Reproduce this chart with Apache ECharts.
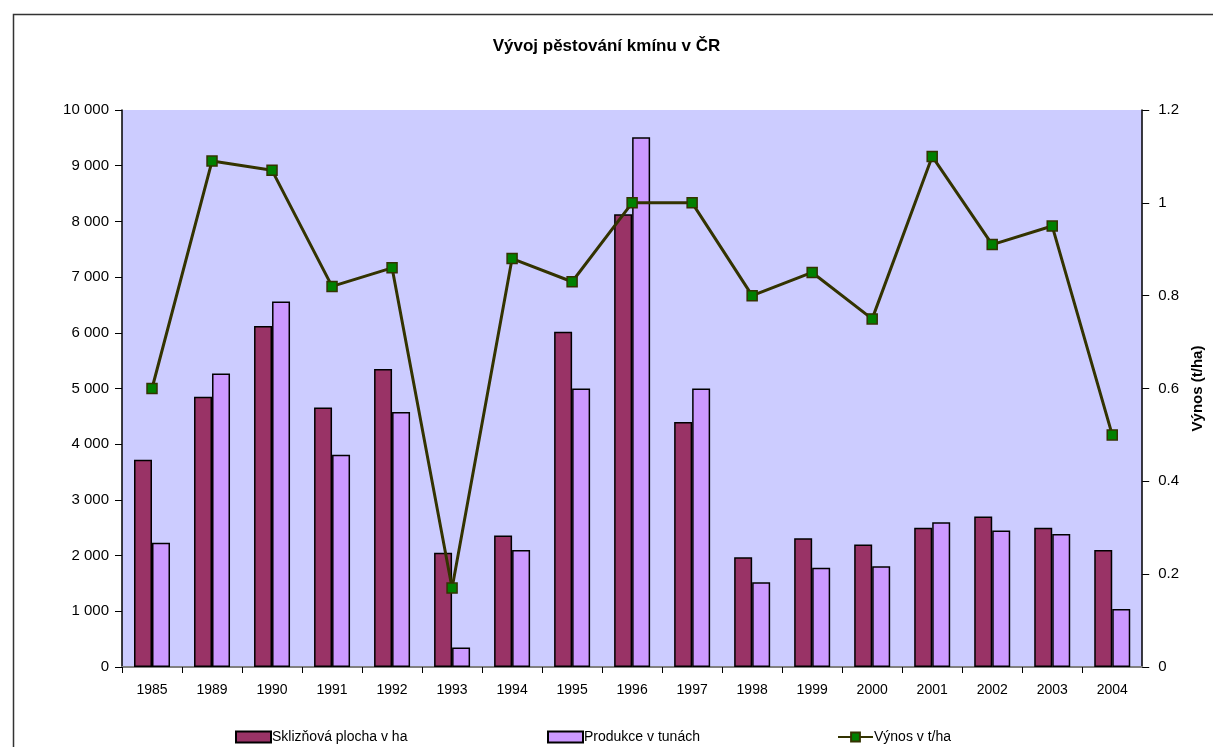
<!DOCTYPE html>
<html>
<head>
<meta charset="utf-8">
<script src="https://cdn.jsdelivr.net/npm/echarts@6/dist/echarts.min.js"></script>
<style>
  html, body { margin: 0; padding: 0; background: #fff; }
  #chart { width: 1213px; height: 747px; }
</style>
</head>
<body>
<div id="chart"></div>
<script>
// roky
var years = ["1985", "1989", "1990", "1991", "1992", "1993", "1994", "1995", "1996",
             "1997", "1998", "1999", "2000", "2001", "2002", "2003", "2004"];
// sklizňová plocha v ha
var plocha = [3720, 4850, 6120, 4660, 5350, 2050, 2360, 6020, 8130,
              4400, 1970, 2310, 2200, 2500, 2700, 2500, 2100];
// produkce v tunách
var produkce = [2230, 5270, 6560, 3810, 4580, 350, 2100, 5000, 9510,
                5000, 1520, 1780, 1810, 2600, 2450, 2390, 1040];
// výnos t/ha
var vynos = [0.6, 1.09, 1.07, 0.82, 0.86, 0.17, 0.88, 0.83, 1.0,
             1.0, 0.8, 0.85, 0.75, 1.1, 0.91, 0.95, 0.5];

var myChart = echarts.init(document.getElementById("chart"));
var font = "Liberation Sans, Arial, sans-serif";

function fmtThousands(v) {
    return String(v).replace(/\B(?=(\d{3})+(?!\d))/g, " ");
}

var option = {
    animation: false,
    backgroundColor: "#fff",
    textStyle: { fontFamily: font },
    title: {
        text: "Vývoj pěstování kmínu v ČR",
        left: "center",
        top: 33,
        textStyle: { fontFamily: font, fontSize: 17, fontWeight: "bold", color: "#000" }
    },
    graphic: [{
        type: "rect",
        left: 11, top: 12,
        shape: { width: 1240, height: 780 },
        style: { fill: "none", stroke: "#333", lineWidth: 1.5 },
        z: -1
    }],
    grid: {
        left: 122, right: 70, top: 110, bottom: 80,
        show: true,
        backgroundColor: "#ccccff",
        borderWidth: 0
    },
    legend: [
        { data: [{ name: "Sklizňová plocha v ha", icon: "rect" }], left: 230, top: 725 },
        { data: [{ name: "Produkce v tunách", icon: "rect" }], left: 542, top: 725 },
        { data: ["Výnos v t/ha"], left: 832, top: 725 }
    ].map(function (l) {
        l.itemWidth = 35;
        l.itemHeight = 11;
        l.itemGap = 0;
        l.textStyle = { fontFamily: font, fontSize: 14, color: "#000", padding: [0, 0, 0, -4] };
        return l;
    }),
    xAxis: {
        type: "category",
        data: years,
        axisLine: { lineStyle: { color: "#808080", width: 2 } },
        axisTick: { show: true, inside: false, length: 6, alignWithLabel: false, lineStyle: { color: "#000" } },
        axisLabel: { color: "#000", fontSize: 14, fontFamily: font, margin: 16 }
    },
    yAxis: [{
        type: "value",
        min: 0, max: 10000, interval: 1000,
        axisLine: { show: true, lineStyle: { color: "#000", width: 1.5 } },
        axisTick: { show: true, length: 7, lineStyle: { color: "#000" } },
        splitLine: { show: false },
        axisLabel: { color: "#000", fontSize: 15, fontFamily: font, margin: 13, formatter: fmtThousands }
    }, {
        type: "value",
        min: 0, max: 1.2, interval: 0.2,
        position: "right",
        name: "Výnos (t/ha)",
        nameLocation: "middle",
        nameRotate: 90,
        nameGap: 44,
        nameTextStyle: { color: "#000", fontSize: 15, fontWeight: "bold", fontFamily: font },
        axisLine: { show: true, lineStyle: { color: "#000", width: 1.5 } },
        axisTick: { show: true, length: 7, lineStyle: { color: "#000" } },
        splitLine: { show: false },
        axisLabel: {
            color: "#000", fontSize: 15, fontFamily: font, margin: 16,
            formatter: function (v) { return String(Math.round(v * 10) / 10); }
        }
    }],
    series: [{
        name: "Sklizňová plocha v ha",
        type: "bar",
        data: plocha,
        barWidth: 18,
        barGap: "0%",
        itemStyle: { color: "#993366", borderColor: "#000", borderWidth: 1.5 }
    }, {
        name: "Produkce v tunách",
        type: "bar",
        data: produkce,
        barWidth: 18,
        barGap: "0%",
        itemStyle: { color: "#cc99ff", borderColor: "#000", borderWidth: 1.5 }
    }, {
        name: "Výnos v t/ha",
        type: "line",
        yAxisIndex: 1,
        data: vynos,
        symbol: "rect",
        symbolSize: 10,
        lineStyle: { color: "#333300", width: 3 },
        itemStyle: { color: "#008000", borderColor: "#333300", borderWidth: 1.5 },
        z: 5
    }]
};

myChart.setOption(option);
window.addEventListener("resize", function () {
    myChart.resize();
});
</script>
</body>
</html>
